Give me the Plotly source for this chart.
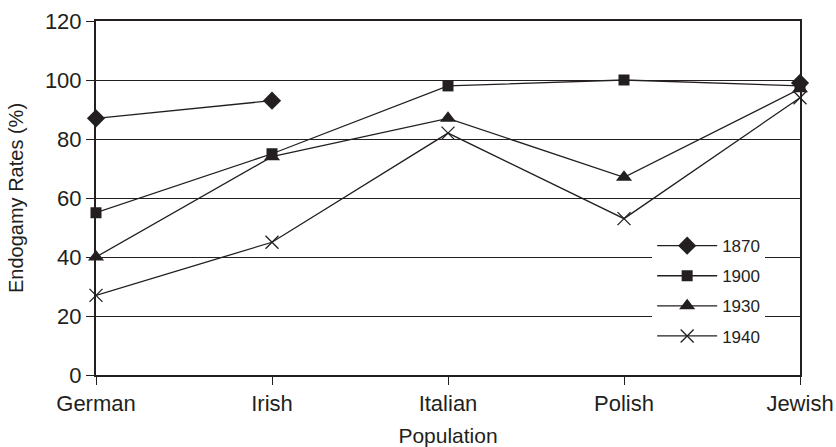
import plotly.graph_objects as go

categories = ["German", "Irish", "Italian", "Polish", "Jewish"]
y1870 = [87, 93, None, None, 99]
y1900 = [55, 75, 98, 100, 98]
y1930 = [40, 74, 87, 67, 97]
y1940 = [27, 45, 82, 53, 94]
y_ticks = [0, 20, 40, 60, 80, 100, 120]

INK = "#231f20"
FONT = "Liberation Sans, Arial, sans-serif"
fig = go.Figure()
series = [
    ("1870", y1870, dict(symbol="diamond", size=14, color=INK)),
    ("1900", y1900, dict(symbol="square", size=11, color=INK)),
    ("1930", y1930, dict(symbol="triangle-up", size=14, color=INK)),
    ("1940", y1940, dict(symbol="x-thin-open", size=13, color=INK, line=dict(width=1.3, color=INK))),
]
for name, ys, mk in series:
    fig.add_trace(go.Scatter(
        x=categories, y=ys, name=name, mode="lines+markers",
        line=dict(color=INK, width=1.3), marker=mk,
        connectgaps=False, cliponaxis=False, legendgroup=name,
    ))

fig.update_layout(
    width=836, height=447,
    margin=dict(l=96, r=36, t=21, b=72, autoexpand=False),
    paper_bgcolor="white", plot_bgcolor="white",
    font=dict(family=FONT, size=21, color=INK),
    showlegend=True,
    legend=dict(x=0.79, y=0.415, xanchor="left", yanchor="top",
                bgcolor="white", borderwidth=0, font=dict(family=FONT, size=17, color=INK),
                tracegroupgap=5, traceorder="grouped", itemwidth=60),
)
fig.update_xaxes(
    type="category", range=[0, 4], showline=True, linecolor=INK, linewidth=2,
    mirror=True, ticks="outside", ticklen=8, tickwidth=1, tickcolor=INK,
    tickfont=dict(family=FONT, size=22, color=INK), automargin=False,
    showgrid=False, title=dict(text="Population", standoff=14, font=dict(family=FONT, size=21, color=INK)),
)
fig.update_yaxes(
    range=[0, 120], tickvals=y_ticks, showline=True, linecolor=INK, linewidth=2,
    mirror=True, ticks="outside", ticklen=8, tickwidth=1, tickcolor=INK,
    tickfont=dict(family=FONT, size=22, color=INK), automargin=False,
    showgrid=True, gridcolor=INK, gridwidth=1, zeroline=False,
    title=dict(text="Endogamy Rates (%)", standoff=16, font=dict(family=FONT, size=20, color=INK)),
)
fig.write_html("out.html", config={"displayModeBar": False},
               post_script="document.body.style.margin='0';")
